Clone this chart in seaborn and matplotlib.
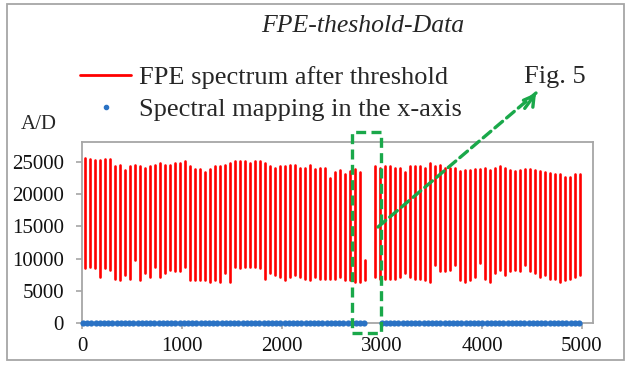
import numpy as np
import pandas as pd
import matplotlib
matplotlib.use("Agg")
import matplotlib.pyplot as plt
from matplotlib.lines import Line2D
from matplotlib.patches import Rectangle
import seaborn as sns

# Spike positions (sample index) after thresholding; one spike is removed near 2875
spike_x = [25, 75, 125, 175, 225, 275, 325, 375, 425, 475,
           525, 575, 625, 675, 725, 775, 825, 875, 925, 975,
           1025, 1075, 1125, 1175, 1225, 1275, 1325, 1375, 1425, 1475,
           1525, 1575, 1625, 1675, 1725, 1775, 1825, 1875, 1925, 1975,
           2025, 2075, 2125, 2175, 2225, 2275, 2325, 2375, 2425, 2475,
           2525, 2575, 2625, 2675, 2725, 2775, 2825,
           2925, 2975, 3025, 3075, 3125, 3175, 3225, 3275, 3325, 3375,
           3425, 3475, 3525, 3575, 3625, 3675, 3725, 3775, 3825, 3875,
           3925, 3975, 4025, 4075, 4125, 4175, 4225, 4275, 4325, 4375,
           4425, 4475, 4525, 4575, 4625, 4675, 4725, 4775, 4825, 4875,
           4925, 4975]

spike_high = [25600, 25400, 25300, 25300, 25400, 25400, 24400, 24600, 23800, 24400,
              24600, 24400, 24000, 24400, 24600, 24800, 24600, 24600, 24900, 24900,
              25200, 24400, 23900, 23900, 23500, 23900, 24400, 24400, 24600, 24800,
              25100, 25200, 25200, 24900, 25100, 25200, 24800, 24300, 24000, 24400,
              24400, 24600, 24600, 24000, 24100, 24500, 23900, 24000, 24000, 22500,
              23500, 23800, 23200, 23600, 23900, 23500, 9800,
              24400, 24000, 24300, 24300, 24100, 24000, 23500, 24400, 24400, 24400,
              24100, 24800, 24400, 24500, 24000, 24100, 24000, 23600, 23800, 23800,
              23900, 23900, 24100, 23800, 24000, 24300, 24000, 23800, 23600, 23800,
              23900, 23900, 23800, 23600, 23500, 23300, 23200, 23100, 22600, 22700,
              23100, 23100]

spike_low = [8500, 8700, 8500, 7200, 8500, 8200, 6900, 6700, 7400, 6900,
             9800, 6700, 7700, 7200, 8700, 7200, 7700, 8200, 8000, 8000,
             8700, 6700, 6700, 6700, 6700, 6400, 6700, 6400, 7700, 6400,
             8700, 8500, 8700, 8700, 8700, 8500, 6900, 7700, 7400, 7200,
             6700, 7200, 7400, 7200, 6900, 6700, 7200, 6900, 6900, 6900,
             6900, 7200, 6700, 6700, 6400, 6400, 6700,
             7200, 6900, 6900, 6900, 6900, 7200, 7700, 7200, 6900, 6900,
             6700, 6400, 9000, 8000, 8000, 8200, 9000, 6700, 6400, 6700,
             7200, 9300, 6900, 6400, 7700, 8200, 7400, 8000, 8200, 8000,
             9000, 8000, 7700, 7200, 7400, 6900, 6900, 6400, 6700, 6900,
             7200, 7400]

# Positions mapped onto the x-axis (value 0), with the same gap near 2900
map_step = 42
map_x = np.concatenate([np.arange(10, 2840, map_step), np.arange(2995, 5000, map_step)])
map_y = np.zeros(len(map_x))

y_ticks = [0, 5000, 10000, 15000, 20000, 25000]
x_ticks = [0, 1000, 2000, 3000, 4000, 5000]

RED = "#ff0000"
BLUE = "#2a72c4"
GREEN = "#1aa84a"
GRAY = "#a6a6a6"
SERIF = "Liberation Serif"

# Long table: each spike is a vertical stroke from its low to its high value
spikes = pd.DataFrame({
    "x": np.repeat(spike_x, 2),
    "y": np.column_stack([spike_low, spike_high]).ravel(),
    "spike": np.repeat(np.arange(len(spike_x)), 2),
})
mapping = pd.DataFrame({"x": map_x, "y": map_y})

sns.set_theme(style="white")
plt.rcParams["font.family"] = [SERIF, "DejaVu Serif"]

fig = plt.figure(figsize=(6.26, 3.66), dpi=100)
ax = fig.add_axes([82 / 626, 1 - 323 / 366, (593 - 82) / 626, (323 - 142) / 366])

sns.lineplot(data=spikes, x="x", y="y", units="spike", estimator=None, sort=False,
             color=RED, linewidth=1.9, ax=ax, legend=False)
sns.scatterplot(data=mapping, x="x", y="y", color=BLUE, s=20, linewidth=0,
                ax=ax, legend=False, clip_on=False, zorder=4)

ax.set_xlim(0, 5110)
ax.set_ylim(0, 28100)
ax.set_xticks(x_ticks)
ax.set_yticks(y_ticks)
ax.set_xticklabels([str(v) for v in x_ticks])
ax.set_yticklabels([str(v) for v in y_ticks])
ax.set_xlabel("")
ax.set_ylabel("")
ax.grid(False)
for side in ["left", "right", "top", "bottom"]:
    ax.spines[side].set_visible(True)
    ax.spines[side].set_color(GRAY)
    ax.spines[side].set_linewidth(1.3)
ax.tick_params(axis="both", which="major", direction="out", length=4, width=1.2,
               color=GRAY, labelsize=15, labelcolor="#111111")
ax.tick_params(axis="y", pad=9, left=True)
ax.tick_params(axis="x", pad=6, bottom=True)

# Dashed box around the removed spike region and arrow pointing to the zoomed figure
ax.add_patch(Rectangle((2700, -1550), 290, 31200, fill=False, edgecolor=GREEN,
                       linewidth=2.4, linestyle=(0, (3, 1.6)), clip_on=False, zorder=5))
tip = (536 / 626, 1 - 93 / 366)
ax.annotate("", xy=tip, xycoords="figure fraction", xytext=(2960, 14900),
            textcoords="data",
            arrowprops=dict(arrowstyle="-", color=GREEN, lw=2.4,
                            linestyle=(0, (3, 1.6)), shrinkA=0, shrinkB=0))
ax.annotate("", xy=tip, xycoords="figure fraction",
            xytext=(tip[0] - 0.018, tip[1] - 0.042), textcoords="figure fraction",
            arrowprops=dict(arrowstyle="->,head_length=0.6,head_width=0.35",
                            color=GREEN, lw=2.4, shrinkA=0, shrinkB=0))

legend_handles = [
    Line2D([0], [0], color=RED, lw=2.0),
    Line2D([0], [0], marker="o", linestyle="none", color=BLUE, markersize=3),
]
fig.legend(legend_handles, ["FPE spectrum after threshold", "Spectral mapping in the x-axis"],
           loc="upper left", bbox_to_anchor=(80 / 626, 1 - 66 / 366), frameon=False,
           fontsize=19, handlelength=1.95, handletextpad=0.3, labelspacing=0.3,
           borderpad=0, borderaxespad=0)

fig.text(363 / 626, 1 - 32 / 366, "FPE-theshold-Data", ha="center", va="baseline",
         fontsize=18.5, fontstyle="italic")
fig.text(21 / 626, 1 - 129 / 366, "A/D", ha="left", va="baseline", fontsize=15)
fig.text(524 / 626, 1 - 83 / 366, "Fig. 5", ha="left", va="baseline", fontsize=19)

# Outer frame of the chart area
fig.add_artist(Rectangle((7 / 626, 1 - 360 / 366), (624 - 7) / 626, (360 - 4) / 366,
                         transform=fig.transFigure, fill=False, edgecolor=GRAY,
                         linewidth=1.3))

fig.savefig("out.png", dpi=100)
